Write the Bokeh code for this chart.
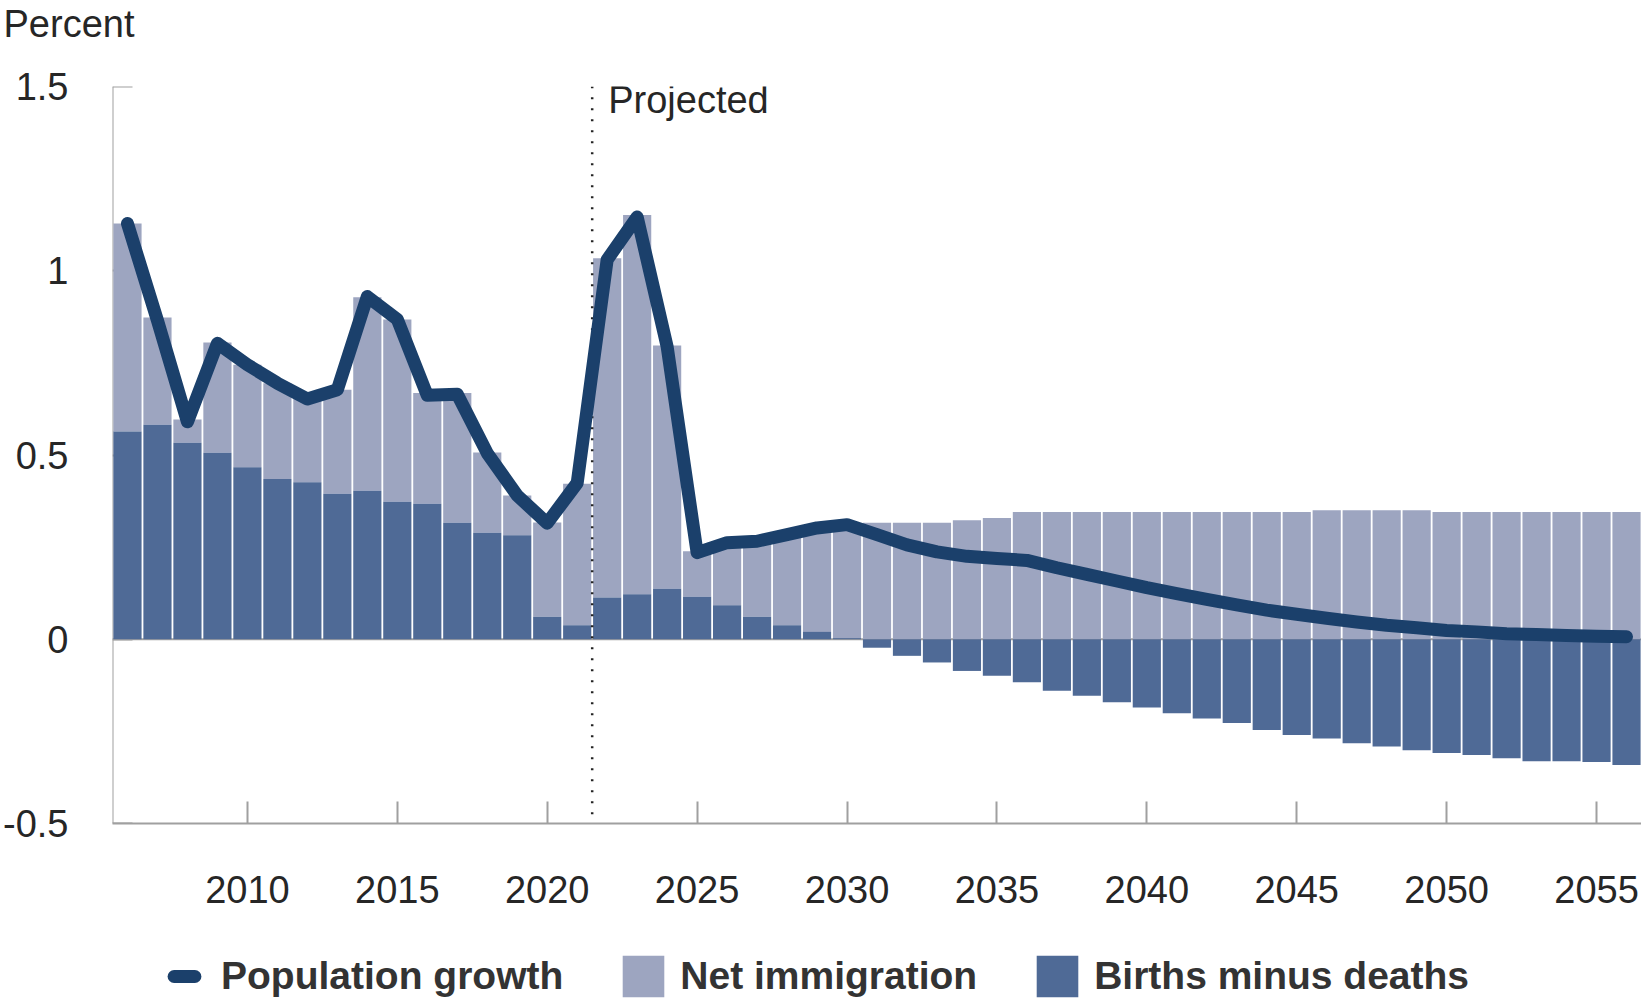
import math
from bokeh.plotting import figure
from bokeh.layouts import column
from bokeh.models import FixedTicker, Legend, LegendItem, Span, ColumnDataSource, LinearAxis
from bokeh.core.properties import value
from bokeh.embed import file_html
from bokeh.resources import INLINE

years = list(range(2006, 2057))

births_minus_deaths = [
    0.564, 0.582, 0.533, 0.506, 0.467, 0.435, 0.426, 0.395, 0.403, 0.373,
    0.368, 0.316, 0.289, 0.282, 0.061, 0.038, 0.113, 0.122, 0.137, 0.115,
    0.092, 0.061, 0.038, 0.020, 0.003, -0.023, -0.045, -0.063, -0.086, -0.099,
    -0.117, -0.140, -0.153, -0.171, -0.185, -0.201, -0.215, -0.227, -0.246, -0.260,
    -0.269, -0.282, -0.291, -0.301, -0.309, -0.314, -0.323, -0.331, -0.331, -0.333,
    -0.341,
]

net_immigration = [
    0.564, 0.291, 0.063, 0.299, 0.278, 0.260, 0.229, 0.282, 0.525, 0.495,
    0.300, 0.352, 0.218, 0.108, 0.256, 0.384, 0.921, 1.029, 0.660, 0.124,
    0.173, 0.207, 0.246, 0.282, 0.309, 0.316, 0.316, 0.316, 0.323, 0.329,
    0.345, 0.345, 0.345, 0.345, 0.345, 0.345, 0.345, 0.345, 0.345, 0.345,
    0.350, 0.350, 0.350, 0.350, 0.345, 0.345, 0.345, 0.345, 0.345, 0.345,
    0.345,
]

population_growth = [
    1.128, 0.865, 0.590, 0.803, 0.745, 0.695, 0.652, 0.677, 0.930, 0.868,
    0.662, 0.665, 0.505, 0.390, 0.315, 0.424, 1.030, 1.146, 0.794, 0.235,
    0.262, 0.266, 0.284, 0.302, 0.311, 0.284, 0.256, 0.237, 0.225, 0.219,
    0.214, 0.194, 0.176, 0.158, 0.140, 0.124, 0.108, 0.093, 0.079, 0.068,
    0.057, 0.047, 0.038, 0.031, 0.024, 0.020, 0.015, 0.013, 0.010, 0.008,
    0.007,
]

x_tick_years = [2010, 2015, 2020, 2025, 2030, 2035, 2040, 2045, 2050, 2055]
y_ticks = [-0.5, 0, 0.5, 1, 1.5]
y_tick_labels = ["-0.5", "0", "0.5", "1", "1.5"]
projection_start = 2021.5
unit_label = "Percent"
projection_label = "Projected"
series_names = ["Population growth", "Net immigration", "Births minus deaths"]

LIGHT = "#9DA5C0"
DARK = "#4F6A96"
LINE = "#1B406B"
AXIS = "#A0A0A0"
TEXT = "#262626"
FONT = "Liberation Sans"

imm_bottom = [max(b, 0) for b in births_minus_deaths]
imm_top = [lo + v for lo, v in zip(imm_bottom, net_immigration)]
src = ColumnDataSource(dict(year=years, births=births_minus_deaths,
                            imm_bottom=imm_bottom, imm_top=imm_top,
                            growth=population_growth))


def bare(fig):
    fig.outline_line_color = None
    fig.xgrid.visible = False
    fig.ygrid.visible = False
    return fig


# ---- top strip carrying the unit label as its title ----
tf = bare(figure(width=1641, height=50, x_range=(0, 1), y_range=(0, 1),
                 output_backend="svg", toolbar_location=None,
                 x_axis_location=None, y_axis_location=None, min_border=0))
tf.title.text = unit_label
tf.title.align = "left"
tf.title.offset = -109
tf.title.standoff = 0
tf.title.text_font = FONT
tf.title.text_font_size = "38px"
tf.title.text_font_style = "normal"
tf.title.text_color = TEXT

# ---- main chart ----
p = bare(figure(width=1641, height=880, x_range=(2005.5, 2056.5), y_range=(-0.5, 1.5),
                output_backend="svg", toolbar_location=None,
                min_border_left=109, min_border_right=0, min_border_top=36,
                min_border_bottom=107))

p.add_layout(Span(location=0, dimension="width", line_color=AXIS, line_width=2, level="underlay"))

p.vbar(x="year", bottom="imm_bottom", top="imm_top", width=0.94, source=src,
       fill_color=LIGHT, line_color=None)
p.vbar(x="year", bottom=0, top="births", width=0.94, source=src,
       fill_color=DARK, line_color=None)

p.segment(x0=[projection_start], y0=[-0.475], x1=[projection_start], y1=[1.5],
          line_color="#222222", line_width=2.5, line_dash="2 9")

p.text(x=[projection_start], y=[1.5], text=[projection_label], x_offset=16, y_offset=-8,
       text_font=value(FONT), text_font_size=value("38px"), text_color=TEXT,
       text_align="left", text_baseline="top")

p.line(x="year", y="growth", source=src, line_color=LINE, line_width=13,
       line_join="round", line_cap="round")

# x axis
xa = p.xaxis[0]
xa.ticker = FixedTicker(ticks=x_tick_years)
xa.axis_line_color = AXIS
xa.axis_line_width = 2
xa.major_tick_line_color = AXIS
xa.major_tick_line_width = 2
xa.major_tick_in = 22
xa.major_tick_out = 0
xa.minor_tick_line_color = None
xa.major_label_text_font = FONT
xa.major_label_text_font_size = "38px"
xa.major_label_text_color = TEXT
xa.major_label_standoff = 52

# y axis: line + inward ticks drawn beneath the bars
ya = p.yaxis[0]
ya.level = "underlay"
ya.ticker = FixedTicker(ticks=y_ticks)
ya.axis_line_color = AXIS
ya.axis_line_width = 2
ya.major_tick_line_color = AXIS
ya.major_tick_line_width = 2
ya.major_tick_in = 20
ya.major_tick_out = 0
ya.minor_tick_line_color = None
ya.major_label_text_font_size = "0px"
ya.major_label_standoff = 0
ya.major_label_overrides = {t: "" for t in y_ticks}

# y axis labels
yl = LinearAxis(ticker=FixedTicker(ticks=y_ticks), axis_line_color=None,
                major_tick_line_color=None, minor_tick_line_color=None,
                major_tick_in=0, major_tick_out=0,
                major_label_overrides={t: s for t, s in zip(y_ticks, y_tick_labels)},
                major_label_text_font=FONT, major_label_text_font_size="38px",
                major_label_text_color=TEXT, major_label_standoff=44)
p.add_layout(yl, "left")

# ---- legend strip ----
lf = bare(figure(width=1641, height=70, x_range=(0, 1), y_range=(0, 1),
                 output_backend="svg", toolbar_location=None,
                 x_axis_location=None, y_axis_location=None, min_border=0))
nan_src = ColumnDataSource(dict(x=[math.nan], y=[math.nan]))
r_line = lf.scatter(x="x", y="y", source=nan_src, marker="dash", size=27,
                    line_color=LINE, line_width=13, line_cap="round")
r_imm = lf.vbar(x="x", top="y", width=0.1, source=nan_src, fill_color=LIGHT, line_color=None)
r_births = lf.vbar(x="x", top="y", width=0.1, source=nan_src, fill_color=DARK, line_color=None)

legend = Legend(items=[LegendItem(label=series_names[0], renderers=[r_line]),
                       LegendItem(label=series_names[1], renderers=[r_imm]),
                       LegendItem(label=series_names[2], renderers=[r_births])],
                location=(46, -8), orientation="horizontal", padding=0, margin=0,
                border_line_color=None, background_fill_alpha=0,
                label_text_font=FONT, label_text_font_style="bold",
                label_text_font_size="39px", label_text_color="#333333",
                label_height=64, glyph_height=52, glyph_width=52,
                label_standoff=11, spacing=54)
lf.add_layout(legend)

layout = column(tf, p, lf, spacing=0)
open("out.html", "w").write(file_html(layout, INLINE))
